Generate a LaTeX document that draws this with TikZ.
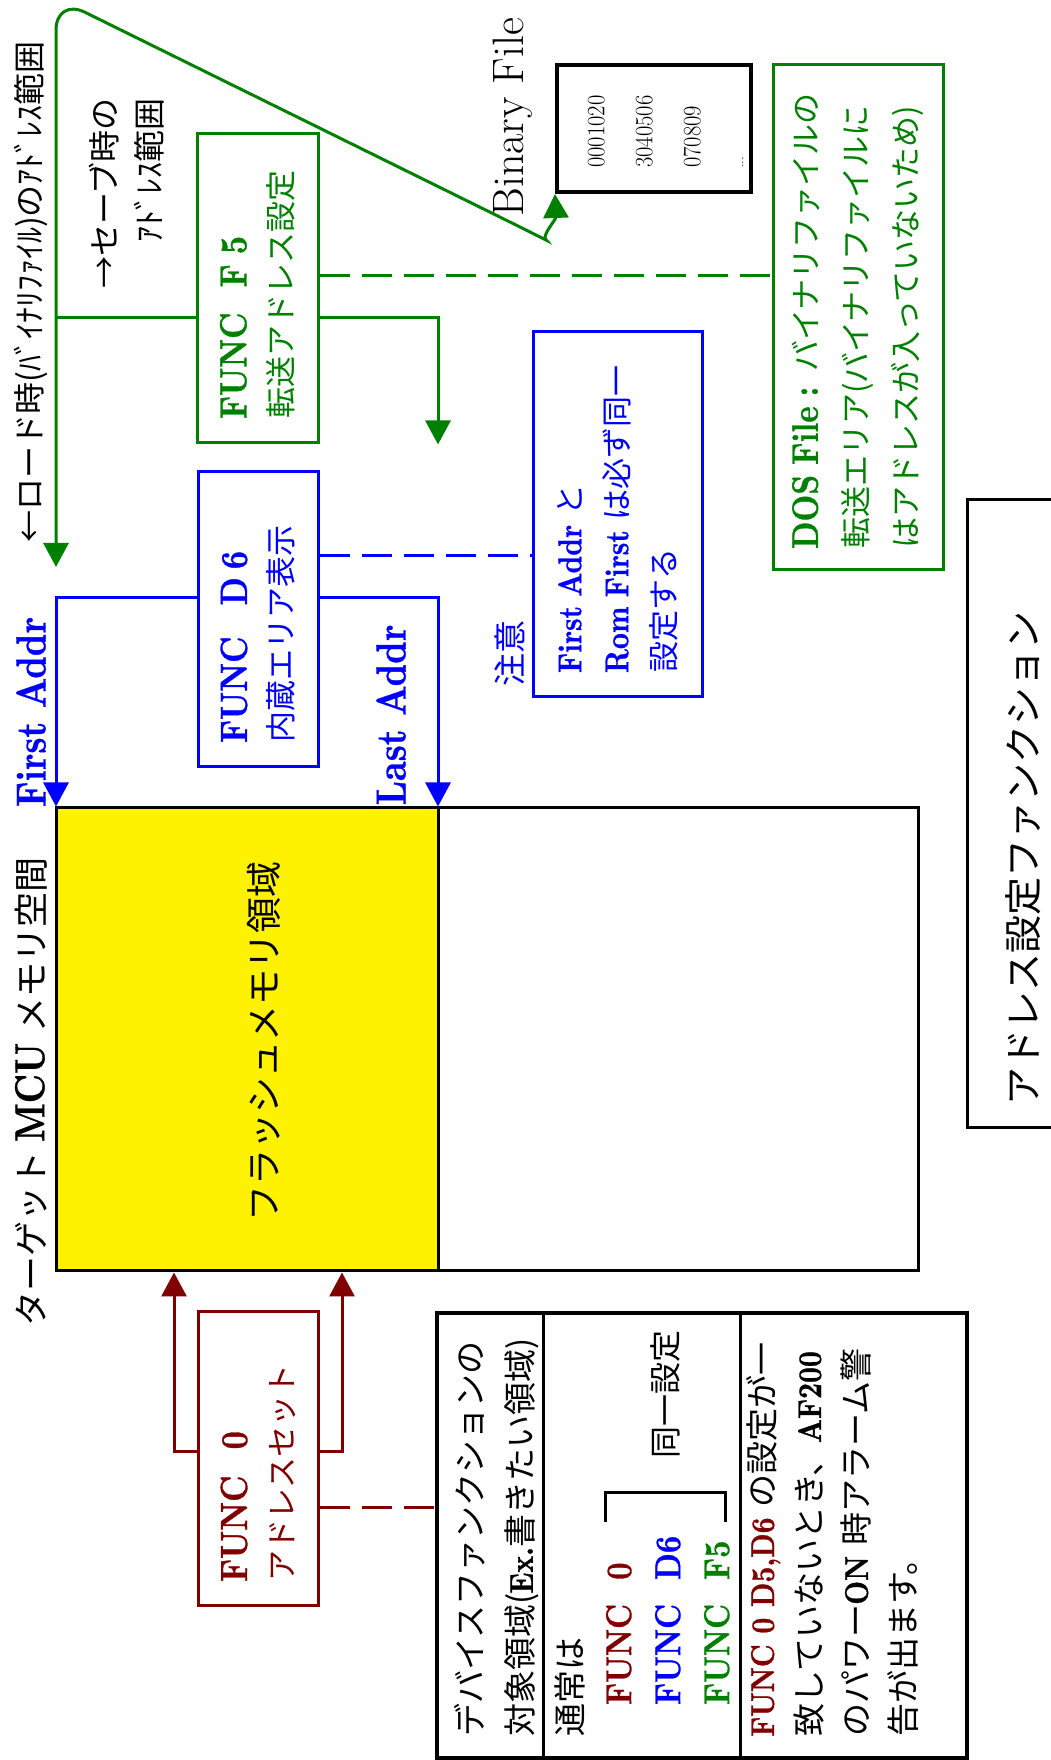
\documentclass[tikz,border=0pt]{standalone}
\usepackage{fontspec}
\usepackage{graphicx}
\newfontfamily\jpf{Noto Sans CJK JP}
\newfontfamily\lmbx{lmroman10-bold}[Extension=.otf,FakeStretch=0.84,FakeBold=0.8]
\usetikzlibrary{arrows.meta,calc}
\definecolor{dred}{RGB}{128,0,0}
\definecolor{dgreen}{RGB}{0,128,0}
\definecolor{dblue}{RGB}{0,0,255}
\newcommand\J[2][31]{{\fontsize{#1}{#1}\selectfont\jpf #2}}
\newcommand\B[2][33]{{\fontsize{#1}{#1}\selectfont\lmbx #2}}
\begin{document}
\begin{tikzpicture}[x=1pt,y=-1pt,
 box/.style={draw,line width=3pt,inner sep=0pt},
 conn/.style={line width=3pt},
 tip/.style={-{Triangle[width=25pt,length=24pt]}},
 dashline/.style={line width=3pt,dash pattern=on 30pt off 12pt},
 lbl/.style={inner sep=0pt},
]
\begin{scope}[rotate=90,transform shape]
\useasboundingbox (0,0) rectangle (1760,1051);

% memory space
\node[box,fill=yellow,minimum width=463pt,minimum height=382pt] (flash) at (720.5,247) {};
\node[box,minimum width=463pt,minimum height=480pt] (rest) at (720.5,678) {};
\node[lbl] (flashlbl) at (718,264) {\J[36]{フラッシュメモリ領域}};
\node[lbl,anchor=west] (memlbl) at (433,31) {\J[35]{ターゲット}\hspace{10pt}\B[42]{MCU}\hspace{10pt}\J[35]{メモリ空間}};

% FUNC boxes
\node[box,draw=dred,text=dred,minimum width=294pt,minimum height=120pt,text width=246pt,align=left,font=\fontsize{28}{46}\selectfont] (f0) at (301,258) {\B[38]{FUNC}\hspace{26pt}\B[38]{0}\\\J{アドレスセット}};
\node[box,draw=dblue,text=dblue,minimum width=295pt,minimum height=120pt,text width=247pt,align=left,font=\fontsize{28}{46}\selectfont] (d6) at (1140.5,258) {\B[38]{FUNC}\hspace{31pt}\B[38]{D}\hspace{8pt}\B[38]{6}\\\J{内蔵エリア表示}};
\node[box,draw=dgreen,text=dgreen,minimum width=309pt,minimum height=121pt,text width=261pt,align=left,font=\fontsize{28}{46}\selectfont] (f5) at (1471.5,257.5) {\B[38]{FUNC}\hspace{25pt}\B[38]{F}\hspace{10pt}\B[38]{5}\\\J{転送アドレス設定}};

% red connectors
\coordinate (r1) at (308,174);
\coordinate (r2) at (308,342);
\coordinate (rd) at (252,380);
\draw[conn,dred,tip] (f0.north -| r1) -- (r1) -- (flash.west |- r1);
\draw[conn,dred,tip] (f0.south -| r2) -- (r2) -- (flash.west |- r2);

% table
\node[box,line width=3.5pt,minimum width=445pt,minimum height=530pt] (tbl) at (224.5,702) {};
\draw[dashline,dred] (f0.south -| rd) -- (tbl.north -| rd);
\coordinate (t1) at (0,543);
\coordinate (t2) at (0,740);
\draw[line width=3pt] (tbl.west |- t1) -- (tbl.east |- t1);
\draw[line width=3pt] (tbl.west |- t2) -- (tbl.east |- t2);
\node[lbl,anchor=west,align=left,font=\fontsize{33}{50}\selectfont] (row1) at (23,497) {\J[33]{デバイスファンクションの}\\\J[33]{対象領域(}\B{Ex.}\J[33]{書きたい領域)}};
\node[lbl,anchor=west,align=left,font=\fontsize{33}{49}\selectfont] (row2) at (23,642) {\J[33]{通常は}\\
\hspace*{32pt}\textcolor{dred}{\makebox[125pt][l]{\B[36]{FUNC}}\B[36]{0}}\\
\hspace*{32pt}\textcolor{dblue}{\makebox[125pt][l]{\B[36]{FUNC}}\B[36]{D6}}\\
\hspace*{32pt}\textcolor{dgreen}{\makebox[125pt][l]{\B[36]{FUNC}}\B[36]{F5}}};
\draw[line width=3pt] (238,605) -- (267,605) -- (267,725) -- (238,725);
\node[lbl] (same) at (365,665) {\J[32]{同一設定}};
\node[lbl,anchor=west,align=left,font=\fontsize{33}{47}\selectfont] (row3) at (23,832) {\textcolor{dred}{\B{FUNC 0 D5,D6}} \J[33]{の設定が一}\\
\J[33]{致していないとき、}\B{AF200}\\
\J[33]{のパワー}\B{ON}\ \J[33]{時アラーム警}\\
\J[33]{告が出ます。}};

% blue
\coordinate (b1) at (1162,56);
\coordinate (b2) at (1162,438);
\coordinate (bd) at (1204,400);
\draw[conn,dblue,tip] (d6.north -| b1) -- (b1) -- (flash.east |- b1);
\draw[conn,dblue,tip] (d6.south -| b2) -- (b2) -- (flash.east |- b2);
\node[lbl,text=dblue] (first) at (1048,31) {\B[42]{First Addr}};
\node[lbl,text=dblue] (last) at (1045,391) {\B[42]{Last Addr}};
\node[box,draw=dblue,text=dblue,minimum width=365pt,minimum height=169pt,text width=317pt,align=left,font=\fontsize{28}{47}\selectfont] (note) at (1245.5,617.5) {\B{First Addr} \J{と}\\\B{Rom First} \J{は必ず同一}\\\J{設定する}};
\draw[dashline,dblue] (d6.south -| bd) -- (note.north -| bd);
\node[lbl,text=dblue] (chui) at (1106,510) {\J[33]{注意}};

% green
\node[box,draw=dgreen,text=dgreen,minimum width=505pt,minimum height=170pt,text width=463pt,align=left,font=\fontsize{29.5}{50}\selectfont] (dos) at (1442.5,858) {\B[37]{DOS File :} \J{バイナリファイルの}\\\J{転送エリア(バイナリファイルに}\\\J{はアドレスが入っていないため)}};
\node[box,line width=4pt,minimum width=127pt,minimum height=194pt] (bin) at (1631.5,654) {};
\node[lbl,anchor=west,align=left,font=\fontsize{25}{48}\selectfont] (bintxt) at (1592,668) {\scalebox{0.9}[1]{0001020}\\\scalebox{0.9}[1]{3040506}\\\scalebox{0.9}[1]{070809}\\\raisebox{5pt}{\fontsize{15}{15}\selectfont...}};
\node[lbl,anchor=base west] (binlbl) at (1543,523) {\fontsize{44}{44}\selectfont Binary File};

\coordinate (g0) at (1193,56);
\coordinate (gc) at (1762,56);
\coordinate (gd1) at (1534,518);
\coordinate (g1) at (1442,56);
\coordinate (g2) at (1442,438);
\coordinate (gd) at (1484,600);
\draw[conn,dgreen,{Triangle[width=25pt,length=24pt]}-{Triangle[width=25pt,length=24pt]}] (g0) [rounded corners=32pt] -- (gc) -- (gd1) [sharp corners] .. controls (1523,540) and (1540,556) .. (bin.north west);
\draw[conn,dgreen] (g1) -- (f5.north -| g1);
\draw[conn,dgreen,tip] (f5.south -| g2) -- (g2) -- (f5.west |- g2);
\draw[dashline,dgreen] (f5.south -| gd) -- (dos.north -| gd);
\node[lbl,anchor=west] (loadlbl) at (1217,31) {\J[32]{←ロード時(ﾊﾞｲﾅﾘﾌｧｲﾙ)のｱﾄﾞﾚｽ範囲}};
\node[lbl,anchor=east] (savelbl1) at (1662,104) {\J[32]{→セーブ時の}};
\node[lbl,anchor=east] (savelbl2) at (1662,149) {\J[32]{ｱﾄﾞﾚｽ範囲}};

% title
\node[box,minimum width=628pt,minimum height=113pt,text width=584pt,align=left] (title) at (946,1023.5) {\J[38]{アドレス設定ファンクション}};
\end{scope}
\end{tikzpicture}
\end{document}
